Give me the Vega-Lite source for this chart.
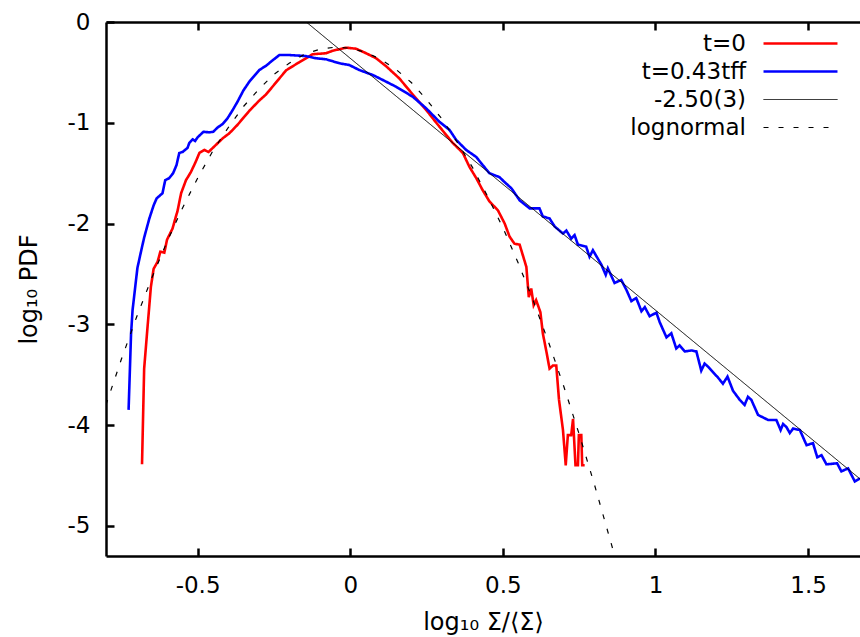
{
  "$schema": "https://vega.github.io/schema/vega-lite/v6.json",
  "width": 754,
  "height": 534,
  "autosize": {"type": "none"},
  "padding": {"left": 106, "top": 22, "right": 0, "bottom": 81},
  "background": "white",
  "view": {"stroke": null},
  "config": {
    "font": "DejaVu Sans",
    "axis": {
      "domainColor": "black", "domainWidth": 2.5, "tickColor": "black", "tickWidth": 2.5,
      "tickSize": -8, "grid": false, "labelFont": "DejaVu Sans", "labelFontSize": 23,
      "labelColor": "black", "titleFont": "DejaVu Sans", "titleFontSize": 24,
      "titleFontWeight": "normal", "titleColor": "black", "labelExpr": "'' + datum.value"
    },
    "legend": {
      "orient": "none", "legendX": 683, "legendY": 10, "title": null, "padding": 0,
      "symbolType": "M-4,0H4", "symbolSize": 342, "labelAlign": "right", "labelOffset": -66,
      "labelFont": "DejaVu Sans", "labelFontSize": 23, "labelColor": "black",
      "rowPadding": 4, "labelLimit": 0, "symbolStrokeColor": "black"
    }
  },
  "data": {"values": [
    {"s":"t=0","x":-0.682,"y":-4.39},{"s":"t=0","x":-0.675,"y":-3.44},{"s":"t=0","x":-0.664,"y":-3.03},{"s":"t=0","x":-0.653,"y":-2.63},{"s":"t=0","x":-0.644,"y":-2.45},{"s":"t=0","x":-0.631,"y":-2.38},{"s":"t=0","x":-0.622,"y":-2.28},{"s":"t=0","x":-0.609,"y":-2.29},{"s":"t=0","x":-0.600,"y":-2.16},{"s":"t=0","x":-0.582,"y":-2.05},{"s":"t=0","x":-0.571,"y":-1.93},{"s":"t=0","x":-0.566,"y":-1.88},{"s":"t=0","x":-0.554,"y":-1.70},{"s":"t=0","x":-0.538,"y":-1.57},{"s":"t=0","x":-0.522,"y":-1.49},{"s":"t=0","x":-0.508,"y":-1.40},{"s":"t=0","x":-0.494,"y":-1.30},{"s":"t=0","x":-0.478,"y":-1.27},{"s":"t=0","x":-0.464,"y":-1.29},{"s":"t=0","x":-0.440,"y":-1.22},{"s":"t=0","x":-0.418,"y":-1.155},{"s":"t=0","x":-0.396,"y":-1.105},{"s":"t=0","x":-0.369,"y":-1.02},{"s":"t=0","x":-0.347,"y":-0.94},{"s":"t=0","x":-0.330,"y":-0.88},{"s":"t=0","x":-0.298,"y":-0.78},{"s":"t=0","x":-0.276,"y":-0.72},{"s":"t=0","x":-0.254,"y":-0.64},{"s":"t=0","x":-0.232,"y":-0.56},{"s":"t=0","x":-0.210,"y":-0.48},{"s":"t=0","x":-0.189,"y":-0.44},{"s":"t=0","x":-0.167,"y":-0.40},{"s":"t=0","x":-0.145,"y":-0.36},{"s":"t=0","x":-0.123,"y":-0.32},{"s":"t=0","x":-0.101,"y":-0.315},{"s":"t=0","x":-0.079,"y":-0.31},{"s":"t=0","x":-0.057,"y":-0.285},{"s":"t=0","x":-0.035,"y":-0.27},{"s":"t=0","x":-0.013,"y":-0.255},{"s":"t=0","x":0.019,"y":-0.265},{"s":"t=0","x":0.052,"y":-0.31},{"s":"t=0","x":0.085,"y":-0.36},{"s":"t=0","x":0.118,"y":-0.44},{"s":"t=0","x":0.161,"y":-0.56},{"s":"t=0","x":0.205,"y":-0.72},{"s":"t=0","x":0.249,"y":-0.874},{"s":"t=0","x":0.282,"y":-1.0},{"s":"t=0","x":0.314,"y":-1.12},{"s":"t=0","x":0.336,"y":-1.2},{"s":"t=0","x":0.369,"y":-1.30},{"s":"t=0","x":0.391,"y":-1.44},{"s":"t=0","x":0.413,"y":-1.55},{"s":"t=0","x":0.434,"y":-1.67},{"s":"t=0","x":0.456,"y":-1.78},{"s":"t=0","x":0.484,"y":-1.87},{"s":"t=0","x":0.506,"y":-2.0},{"s":"t=0","x":0.522,"y":-2.13},{"s":"t=0","x":0.538,"y":-2.20},{"s":"t=0","x":0.555,"y":-2.21},{"s":"t=0","x":0.577,"y":-2.43},{"s":"t=0","x":0.585,"y":-2.73},{"s":"t=0","x":0.593,"y":-2.645},{"s":"t=0","x":0.601,"y":-2.81},{"s":"t=0","x":0.609,"y":-2.76},{"s":"t=0","x":0.623,"y":-2.88},{"s":"t=0","x":0.631,"y":-3.09},{"s":"t=0","x":0.642,"y":-3.26},{"s":"t=0","x":0.653,"y":-3.44},{"s":"t=0","x":0.664,"y":-3.41},{"s":"t=0","x":0.675,"y":-3.41},{"s":"t=0","x":0.684,"y":-3.75},{"s":"t=0","x":0.697,"y":-4.05},{"s":"t=0","x":0.706,"y":-4.40},{"s":"t=0","x":0.713,"y":-4.10},{"s":"t=0","x":0.724,"y":-4.10},{"s":"t=0","x":0.730,"y":-3.94},{"s":"t=0","x":0.738,"y":-4.40},{"s":"t=0","x":0.746,"y":-4.40},{"s":"t=0","x":0.749,"y":-4.10},{"s":"t=0","x":0.757,"y":-4.10},{"s":"t=0","x":0.760,"y":-4.40},{"s":"t=0","x":0.768,"y":-4.40},
    {"s":"t=0.43tff","x":-0.726,"y":-3.85},{"s":"t=0.43tff","x":-0.718,"y":-3.10},{"s":"t=0.43tff","x":-0.713,"y":-2.86},{"s":"t=0.43tff","x":-0.702,"y":-2.57},{"s":"t=0.43tff","x":-0.697,"y":-2.44},{"s":"t=0.43tff","x":-0.684,"y":-2.26},{"s":"t=0.43tff","x":-0.675,"y":-2.14},{"s":"t=0.43tff","x":-0.658,"y":-1.95},{"s":"t=0.43tff","x":-0.644,"y":-1.82},{"s":"t=0.43tff","x":-0.634,"y":-1.75},{"s":"t=0.43tff","x":-0.615,"y":-1.70},{"s":"t=0.43tff","x":-0.606,"y":-1.57},{"s":"t=0.43tff","x":-0.593,"y":-1.55},{"s":"t=0.43tff","x":-0.580,"y":-1.50},{"s":"t=0.43tff","x":-0.569,"y":-1.42},{"s":"t=0.43tff","x":-0.560,"y":-1.30},{"s":"t=0.43tff","x":-0.549,"y":-1.29},{"s":"t=0.43tff","x":-0.533,"y":-1.25},{"s":"t=0.43tff","x":-0.527,"y":-1.20},{"s":"t=0.43tff","x":-0.516,"y":-1.165},{"s":"t=0.43tff","x":-0.508,"y":-1.18},{"s":"t=0.43tff","x":-0.500,"y":-1.145},{"s":"t=0.43tff","x":-0.481,"y":-1.09},{"s":"t=0.43tff","x":-0.462,"y":-1.095},{"s":"t=0.43tff","x":-0.449,"y":-1.09},{"s":"t=0.43tff","x":-0.434,"y":-1.046},{"s":"t=0.43tff","x":-0.418,"y":-1.013},{"s":"t=0.43tff","x":-0.402,"y":-0.956},{"s":"t=0.43tff","x":-0.385,"y":-0.874},{"s":"t=0.43tff","x":-0.369,"y":-0.79},{"s":"t=0.43tff","x":-0.350,"y":-0.68},{"s":"t=0.43tff","x":-0.330,"y":-0.59},{"s":"t=0.43tff","x":-0.298,"y":-0.477},{"s":"t=0.43tff","x":-0.276,"y":-0.435},{"s":"t=0.43tff","x":-0.254,"y":-0.38},{"s":"t=0.43tff","x":-0.232,"y":-0.328},{"s":"t=0.43tff","x":-0.199,"y":-0.328},{"s":"t=0.43tff","x":-0.145,"y":-0.338},{"s":"t=0.43tff","x":-0.112,"y":-0.36},{"s":"t=0.43tff","x":-0.079,"y":-0.37},{"s":"t=0.43tff","x":-0.035,"y":-0.41},{"s":"t=0.43tff","x":-0.003,"y":-0.427},{"s":"t=0.43tff","x":0.030,"y":-0.477},{"s":"t=0.43tff","x":0.074,"y":-0.526},{"s":"t=0.43tff","x":0.107,"y":-0.576},{"s":"t=0.43tff","x":0.150,"y":-0.642},{"s":"t=0.43tff","x":0.205,"y":-0.742},{"s":"t=0.43tff","x":0.249,"y":-0.857},{"s":"t=0.43tff","x":0.292,"y":-0.99},{"s":"t=0.43tff","x":0.325,"y":-1.07},{"s":"t=0.43tff","x":0.347,"y":-1.17},{"s":"t=0.43tff","x":0.380,"y":-1.27},{"s":"t=0.43tff","x":0.413,"y":-1.34},{"s":"t=0.43tff","x":0.434,"y":-1.42},{"s":"t=0.43tff","x":0.456,"y":-1.50},{"s":"t=0.43tff","x":0.489,"y":-1.54},{"s":"t=0.43tff","x":0.506,"y":-1.59},{"s":"t=0.43tff","x":0.528,"y":-1.65},{"s":"t=0.43tff","x":0.555,"y":-1.77},{"s":"t=0.43tff","x":0.588,"y":-1.85},{"s":"t=0.43tff","x":0.620,"y":-1.85},{"s":"t=0.43tff","x":0.631,"y":-1.93},{"s":"t=0.43tff","x":0.653,"y":-1.95},{"s":"t=0.43tff","x":0.670,"y":-2.03},{"s":"t=0.43tff","x":0.697,"y":-2.10},{"s":"t=0.43tff","x":0.708,"y":-2.07},{"s":"t=0.43tff","x":0.724,"y":-2.15},{"s":"t=0.43tff","x":0.735,"y":-2.115},{"s":"t=0.43tff","x":0.746,"y":-2.21},{"s":"t=0.43tff","x":0.773,"y":-2.23},{"s":"t=0.43tff","x":0.784,"y":-2.33},{"s":"t=0.43tff","x":0.795,"y":-2.265},{"s":"t=0.43tff","x":0.823,"y":-2.41},{"s":"t=0.43tff","x":0.837,"y":-2.51},{"s":"t=0.43tff","x":0.844,"y":-2.445},{"s":"t=0.43tff","x":0.866,"y":-2.59},{"s":"t=0.43tff","x":0.888,"y":-2.56},{"s":"t=0.43tff","x":0.905,"y":-2.66},{"s":"t=0.43tff","x":0.921,"y":-2.77},{"s":"t=0.43tff","x":0.937,"y":-2.74},{"s":"t=0.43tff","x":0.954,"y":-2.87},{"s":"t=0.43tff","x":0.965,"y":-2.83},{"s":"t=0.43tff","x":0.981,"y":-2.92},{"s":"t=0.43tff","x":1.003,"y":-2.885},{"s":"t=0.43tff","x":1.014,"y":-2.98},{"s":"t=0.43tff","x":1.036,"y":-3.13},{"s":"t=0.43tff","x":1.052,"y":-3.09},{"s":"t=0.43tff","x":1.068,"y":-3.24},{"s":"t=0.43tff","x":1.079,"y":-3.21},{"s":"t=0.43tff","x":1.096,"y":-3.27},{"s":"t=0.43tff","x":1.118,"y":-3.26},{"s":"t=0.43tff","x":1.134,"y":-3.27},{"s":"t=0.43tff","x":1.150,"y":-3.46},{"s":"t=0.43tff","x":1.161,"y":-3.39},{"s":"t=0.43tff","x":1.172,"y":-3.42},{"s":"t=0.43tff","x":1.205,"y":-3.53},{"s":"t=0.43tff","x":1.221,"y":-3.59},{"s":"t=0.43tff","x":1.236,"y":-3.52},{"s":"t=0.43tff","x":1.254,"y":-3.66},{"s":"t=0.43tff","x":1.276,"y":-3.75},{"s":"t=0.43tff","x":1.292,"y":-3.80},{"s":"t=0.43tff","x":1.303,"y":-3.72},{"s":"t=0.43tff","x":1.314,"y":-3.75},{"s":"t=0.43tff","x":1.336,"y":-3.90},{"s":"t=0.43tff","x":1.369,"y":-3.95},{"s":"t=0.43tff","x":1.396,"y":-3.95},{"s":"t=0.43tff","x":1.410,"y":-4.05},{"s":"t=0.43tff","x":1.418,"y":-3.99},{"s":"t=0.43tff","x":1.429,"y":-4.02},{"s":"t=0.43tff","x":1.440,"y":-4.08},{"s":"t=0.43tff","x":1.451,"y":-4.035},{"s":"t=0.43tff","x":1.473,"y":-4.05},{"s":"t=0.43tff","x":1.495,"y":-4.20},{"s":"t=0.43tff","x":1.516,"y":-4.18},{"s":"t=0.43tff","x":1.530,"y":-4.32},{"s":"t=0.43tff","x":1.544,"y":-4.30},{"s":"t=0.43tff","x":1.560,"y":-4.39},{"s":"t=0.43tff","x":1.595,"y":-4.38},{"s":"t=0.43tff","x":1.609,"y":-4.46},{"s":"t=0.43tff","x":1.631,"y":-4.43},{"s":"t=0.43tff","x":1.653,"y":-4.56},{"s":"t=0.43tff","x":1.670,"y":-4.53},
    {"s":"-2.50(3)","x":-0.144,"y":0},{"s":"-2.50(3)","x":1.67,"y":-4.535},
    {"s":"lognormal","x":-0.80,"y":-3.80},{"s":"lognormal","x":-0.75,"y":-3.35},{"s":"lognormal","x":-0.70,"y":-2.93},{"s":"lognormal","x":-0.65,"y":-2.54},{"s":"lognormal","x":-0.60,"y":-2.18},{"s":"lognormal","x":-0.55,"y":-1.85},{"s":"lognormal","x":-0.50,"y":-1.55},{"s":"lognormal","x":-0.45,"y":-1.28},{"s":"lognormal","x":-0.40,"y":-1.05},{"s":"lognormal","x":-0.35,"y":-0.84},{"s":"lognormal","x":-0.30,"y":-0.67},{"s":"lognormal","x":-0.25,"y":-0.52},{"s":"lognormal","x":-0.20,"y":-0.41},{"s":"lognormal","x":-0.15,"y":-0.32},{"s":"lognormal","x":-0.10,"y":-0.27},{"s":"lognormal","x":-0.05,"y":-0.25},{"s":"lognormal","x":0.00,"y":-0.26},{"s":"lognormal","x":0.05,"y":-0.30},{"s":"lognormal","x":0.10,"y":-0.37},{"s":"lognormal","x":0.15,"y":-0.47},{"s":"lognormal","x":0.20,"y":-0.60},{"s":"lognormal","x":0.25,"y":-0.77},{"s":"lognormal","x":0.30,"y":-0.96},{"s":"lognormal","x":0.35,"y":-1.19},{"s":"lognormal","x":0.40,"y":-1.44},{"s":"lognormal","x":0.45,"y":-1.73},{"s":"lognormal","x":0.50,"y":-2.04},{"s":"lognormal","x":0.55,"y":-2.39},{"s":"lognormal","x":0.60,"y":-2.77},{"s":"lognormal","x":0.65,"y":-3.18},{"s":"lognormal","x":0.70,"y":-3.62},{"s":"lognormal","x":0.75,"y":-4.09},{"s":"lognormal","x":0.80,"y":-4.59},{"s":"lognormal","x":0.86,"y":-5.23}
  ]},
  "encoding": {
    "x": {"field": "x", "type": "quantitative", "scale": {"domain": [-0.8, 1.67], "nice": false, "zero": false}},
    "y": {"field": "y", "type": "quantitative", "scale": {"domain": [-5.3, 0], "nice": false, "zero": false}},
    "color": {"field": "s", "type": "nominal", "scale": {"domain": ["t=0", "t=0.43tff", "-2.50(3)", "lognormal"], "range": ["#ff0000", "#0000ff", "#000000", "#000000"]}},
    "strokeDash": {"field": "s", "type": "nominal", "scale": {"domain": ["t=0", "t=0.43tff", "-2.50(3)", "lognormal"], "range": [[1, 0], [1, 0], [1, 0], [5, 10]]}},
    "strokeWidth": {"field": "s", "type": "nominal", "scale": {"type": "ordinal", "domain": ["t=0", "t=0.43tff", "-2.50(3)", "lognormal"], "range": [2.6, 2.6, 1, 1.2]}}
  },
  "resolve": {"axis": {"x": "independent", "y": "independent"}},
  "layer": [
    {
      "transform": [{"filter": "datum.s == 't=0'"}],
      "mark": {"type": "line", "clip": true},
      "encoding": {
        "x": {"field": "x", "type": "quantitative", "axis": {"orient": "bottom", "values": [-0.5, 0, 0.5, 1, 1.5], "title": "log₁₀ Σ/⟨Σ⟩", "labelPadding": 26, "titlePadding": 13}},
        "y": {"field": "y", "type": "quantitative", "axis": {"orient": "left", "values": [-5, -4, -3, -2, -1, 0], "title": "log₁₀ PDF", "labelPadding": 24, "titlePadding": 26}}
      }
    },
    {
      "transform": [{"filter": "datum.s == 't=0.43tff'"}],
      "mark": {"type": "line", "clip": true},
      "encoding": {
        "x": {"field": "x", "type": "quantitative", "axis": null},
        "y": {"field": "y", "type": "quantitative", "axis": null}
      }
    },
    {
      "transform": [{"filter": "datum.s == '-2.50(3)'"}],
      "mark": {"type": "line", "clip": true},
      "encoding": {
        "x": {"field": "x", "type": "quantitative", "axis": {"orient": "top", "values": [-0.5, 0, 0.5, 1, 1.5], "labels": false, "title": null}},
        "y": {"field": "y", "type": "quantitative", "axis": null}
      }
    },
    {
      "transform": [{"filter": "datum.s == 'lognormal'"}],
      "mark": {"type": "line", "clip": true},
      "encoding": {
        "x": {"field": "x", "type": "quantitative", "axis": null},
        "y": {"field": "y", "type": "quantitative", "axis": null}
      }
    }
  ]
}
